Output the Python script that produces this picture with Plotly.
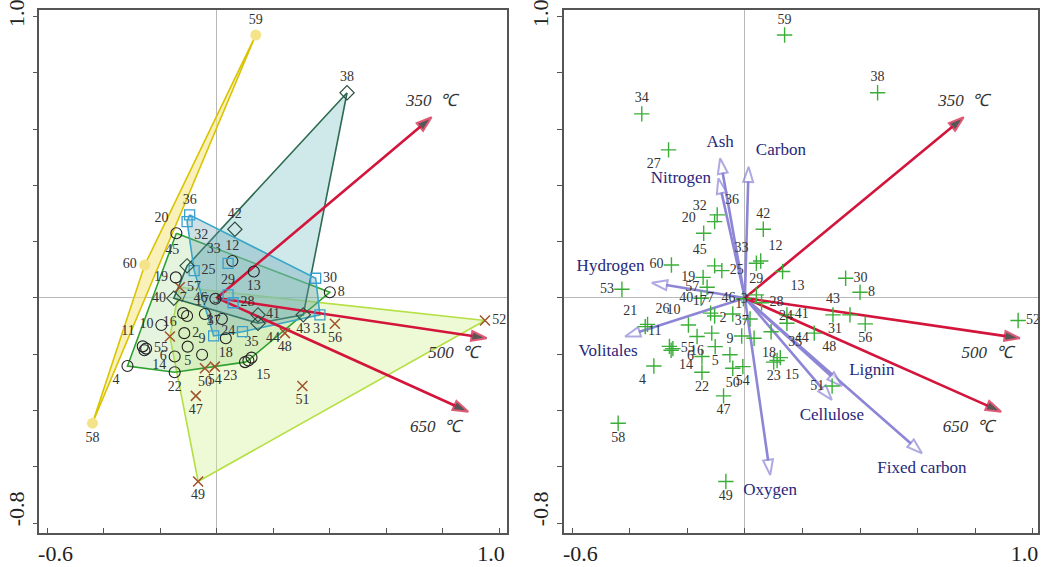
import plotly.graph_objects as go

# ---------------- data ----------------
sample_ids = [1, 2, 3, 4, 5, 6, 7, 8, 9, 10, 11, 12, 13, 14, 15, 16, 17, 18, 19, 20,
              21, 22, 23, 24, 25, 26, 27, 28, 29, 30, 31, 32, 33, 34, 35, 36, 37, 38,
              40, 41, 42, 43, 44, 45, 46, 47, 48, 49, 50, 51, 52, 53, 54, 55, 56, 57,
              58, 59, 60]
score_x = [0.018, -0.115, -0.042, -0.316, -0.103, -0.149, -0.119, 0.400, -0.052, -0.196,
           -0.262, 0.055, 0.131, -0.256, 0.112, -0.166, -0.105, 0.032, -0.145, -0.143,
           -0.346, -0.149, 0.100, 0.091, -0.080, -0.338, -0.265, 0.058, 0.040, 0.350,
           0.365, -0.105, 0.040, -0.358, 0.123, -0.096, -0.011, 0.461,
           -0.152, 0.146, 0.064, 0.306, 0.146, -0.105, -0.005, -0.074, 0.241, -0.066,
           -0.042, 0.303, 0.949, -0.427, -0.007, -0.250, 0.418, -0.131,
           -0.440, 0.138, -0.255]
score_y = [-0.075, -0.125, -0.057, -0.242, -0.173, -0.208, -0.054, 0.020, -0.202, -0.096,
           -0.172, 0.131, 0.094, -0.186, -0.222, -0.137, -0.064, -0.143, 0.073, 0.230,
           -0.102, -0.264, -0.228, -0.120, 0.097, -0.094, 0.526, -0.017, 0.011, 0.070,
           -0.060, 0.271, 0.123, 0.654, -0.212, 0.295, -0.135, 0.729,
           -0.001, -0.060, 0.244, -0.060, -0.090, 0.114, -0.003, -0.348, -0.125, -0.652,
           -0.250, -0.313, -0.080, 0.031, -0.244, -0.180, -0.092, 0.038,
           -0.445, 0.934, 0.117]

group_circle = [1, 2, 3, 4, 5, 6, 7, 8, 9, 10, 11, 12, 13, 14, 15, 17, 18, 19, 20, 22, 23, 35, 46, 55]
group_diamond = [38, 40, 41, 42, 43, 44, 45]
group_square = [24, 25, 28, 29, 30, 31, 32, 33, 36, 37]
group_cross = [16, 47, 48, 49, 50, 51, 52, 54, 56, 57]
group_yellow = [58, 59, 60]

hull_cross = [57, 52, 49, 16]
hull_circle = [20, 8, 35, 15, 23, 22, 4]
hull_diamond = [38, 43, 44, 40, 45]
hull_square = [36, 30, 31, 24, 37, 25, 32]
hull_yellow = [59, 60, 58]

env_names = ["350", "500", "650"]
env_x = [0.760, 0.955, 0.890]
env_y = [0.642, -0.143, -0.404]

var_names = ["Ash", "Carbon", "Nitrogen", "Hydrogen", "Volitales", "Oxygen",
             "Fixed carbon", "Cellulose", "Lignin"]
var_x = [-0.086, 0.013, -0.092, -0.323, -0.416, 0.088, 0.615, 0.302, 0.337]
var_y = [0.496, 0.466, 0.425, 0.054, -0.137, -0.629, -0.552, -0.362, -0.313]

tick_vals_x = [-0.6, -0.4, -0.2, 0.0, 0.2, 0.4, 0.6, 0.8, 1.0]
tick_vals_y = [-0.8, -0.6, -0.4, -0.2, 0.0, 0.2, 0.4, 0.6, 0.8, 1.0]

# ---------------- styling ----------------
pos_left = {1: 'middle left', 2: 'middle right', 3: 'top right', 4: 'bottom left', 5: 'bottom center',
            6: 'middle left', 7: 'top center', 8: 'middle right', 9: 'top center', 10: 'middle left',
            11: 'top left', 12: 'top center', 13: 'bottom center', 14: 'bottom right', 15: 'bottom right',
            16: 'top center', 17: 'top right', 18: 'bottom center', 19: 'middle left', 20: 'top left',
            21: 'top left', 22: 'bottom center', 23: 'bottom left', 24: 'middle left', 25: 'middle right',
            26: 'top right', 27: 'bottom left', 28: 'middle right', 29: 'top center', 30: 'middle right',
            31: 'bottom center', 32: 'bottom right', 33: 'top left', 34: 'top center', 35: 'top center',
            36: 'top center', 37: 'top center', 38: 'top center', 40: 'middle left', 41: 'middle right',
            42: 'top center', 43: 'bottom center', 44: 'bottom right', 45: 'top left', 46: 'middle left',
            47: 'bottom center', 48: 'bottom center', 49: 'bottom center', 50: 'bottom center',
            51: 'bottom center', 52: 'middle right', 53: 'middle left', 54: 'bottom center',
            55: 'middle right', 56: 'bottom center', 57: 'middle right', 58: 'bottom center',
            59: 'top center', 60: 'middle left'}
pos_right = dict(pos_left)
pos_right.update({36: 'top right', 32: 'top left', 13: 'bottom right', 57: 'middle left',
                  10: 'top left', 17: 'top left', 1: 'top left', 2: 'top right', 16: 'bottom center',
                  43: 'top center', 31: 'bottom left', 51: 'middle left', 48: 'bottom right',
                  24: 'top right', 35: 'top right', 23: 'bottom center', 18: 'bottom right',
                  12: 'top right'})

SERIF = "Liberation Serif"
RED = "#d3143b"
LAV = "#8d86d6"
NAVY = "#27277a"
LBL = "#333333"
NB = "\u00a0"

coord = {s: (x, y) for s, x, y in zip(sample_ids, score_x, score_y)}

fig = go.Figure()


def poly(ids, fillcolor, linecolor, width=1.6):
    xs = [coord[i][0] for i in ids] + [coord[ids[0]][0]]
    ys = [coord[i][1] for i in ids] + [coord[ids[0]][1]]
    fig.add_trace(go.Scatter(x=xs, y=ys, mode="lines", fill="toself", fillcolor=fillcolor,
                             line=dict(color=linecolor, width=width), hoverinfo="skip",
                             xaxis="x", yaxis="y"))


poly(hull_cross, "rgba(212,240,150,0.40)", "#b4e042")
poly(hull_circle, "rgba(160,215,140,0.28)", "#2fa12f")
poly(hull_diamond, "rgba(140,200,205,0.42)", "#2c6b50")
poly(hull_square, "rgba(100,160,175,0.32)", "#3aa6c8")
poly(hull_yellow, "rgba(246,228,130,0.55)", "#d8c400")


def arrows(tx, ty, xa, ya, color, head_fill, lw, size):
    for x1, y1 in zip(tx, ty):
        fig.add_trace(go.Scatter(x=[0, x1], y=[0, y1], mode="lines+markers",
                                 line=dict(color=color, width=lw),
                                 marker=dict(symbol="arrow", size=[0, size], angleref="previous",
                                             color=head_fill, line=dict(color=color, width=2)),
                                 hoverinfo="skip", xaxis=xa, yaxis=ya))


def arrow_labels(names, tx, ty, positions, xa, ya, color, fsize, italic):
    fig.add_trace(go.Scatter(x=tx, y=ty, mode="markers+text", text=names,
                             textposition=positions,
                             textfont=dict(family=SERIF, size=fsize, color=color,
                                           style="italic" if italic else "normal"),
                             marker=dict(size=10, opacity=0), hoverinfo="skip",
                             cliponaxis=False, xaxis=xa, yaxis=ya))


env_text = [n + "  ℃" for n in env_names]

# left panel arrows
arrows(env_x, env_y, "x", "y", RED, "#111111", 2.6, 16)


def group_markers(ids, symbol, color, size, lw, fill=None):
    fig.add_trace(go.Scatter(
        x=[coord[i][0] for i in ids], y=[coord[i][1] for i in ids],
        mode="markers+text", text=[str(i) for i in ids],
        textposition=[pos_left[i] for i in ids],
        textfont=dict(family=SERIF, size=14, color=LBL),
        marker=dict(symbol=symbol, size=size, color=fill if fill else color,
                    line=dict(color=color, width=lw)),
        cliponaxis=False, hoverinfo="skip", xaxis="x", yaxis="y"))


group_markers(group_cross, "x-thin-open", "#a0522d", 10, 1.5)
group_markers(group_circle, "circle-open", "#222222", 11, 1.1)
group_markers(group_square, "square-open", "#3aa0d0", 10, 1.3)
group_markers(group_diamond, "diamond-open", "#2b4d3b", 11, 1.1)
group_markers(group_yellow, "circle", "#f5e38a", 11, 0, fill="#f5e38a")

arrow_labels(env_text, env_x, env_y, ["top center", "bottom left", "bottom left"],
             "x", "y", LBL, 17, True)

# right panel
arrows(var_x, var_y, "x2", "y2", LAV, "white", 2.6, 16)
arrows(env_x, env_y, "x2", "y2", RED, "#111111", 2.6, 16)

fig.add_trace(go.Scatter(
    x=score_x, y=score_y, mode="markers+text", text=[str(i) for i in sample_ids],
    textposition=[pos_right[i] for i in sample_ids],
    textfont=dict(family=SERIF, size=14, color=LBL),
    marker=dict(symbol="cross-thin-open", size=11, color="#3aae38", line=dict(color="#3aae38", width=1.4)),
    cliponaxis=False, hoverinfo="skip", xaxis="x2", yaxis="y2"))

var_text = [n + (NB * 8 if n == "Volitales" else "") for n in var_names]
arrow_labels(var_text, var_x, var_y,
             ["top center", "top right", "middle left", "top left", "bottom center",
              "bottom center", "bottom center", "bottom center", "top right"],
             "x2", "y2", NAVY, 17, False)
arrow_labels(env_text, env_x, env_y, ["top center", "bottom left", "bottom left"],
             "x2", "y2", LBL, 17, True)

xt = [NB * 3 + "-0.6"] + [""] * 7 + ["1.0" + NB * 3]
yt = [NB * 4 + "-0.8"] + [""] * 8 + ["1.0"]

axis_x = dict(showline=True, linecolor="#555555", linewidth=1.5, mirror=True,
              ticks="inside", ticklen=5, tickcolor="#555555", tickwidth=1.2,
              tickvals=tick_vals_x, ticktext=xt, showgrid=False,
              zeroline=True, zerolinecolor="#b8b8b8", zerolinewidth=1,
              automargin=False, ticklabeloverflow="allow",
              tickfont=dict(family=SERIF, size=22, color="#222222"))
axis_y = dict(showline=True, linecolor="#555555", linewidth=1.5, mirror=True,
              ticks="outside", ticklen=5, tickcolor="#555555", tickwidth=1.2,
              tickvals=tick_vals_y, ticktext=yt, tickangle=-90, showgrid=False,
              zeroline=True, zerolinecolor="#b8b8b8", zerolinewidth=1,
              automargin=False, ticklabeloverflow="allow",
              tickfont=dict(family=SERIF, size=22, color="#222222"),
              range=[-0.835, 1.023], domain=[0.06, 0.9824])

fig.update_layout(
    width=1043, height=567, autosize=False,
    margin=dict(l=0, r=0, t=0, b=0, autoexpand=False),
    paper_bgcolor="white", plot_bgcolor="white",
    showlegend=False,
    xaxis=dict(axis_x, domain=[0.0377, 0.4858], range=[-0.628, 1.026]),
    yaxis=dict(axis_y, anchor="x"),
    xaxis2=dict(axis_x, domain=[0.5405, 0.9952], range=[-0.629, 1.018], anchor="y2"),
    yaxis2=dict(axis_y, anchor="x2"),
)

fig.write_html("out.html", config={"displayModeBar": False},
               post_script="document.body.style.margin='0';document.body.style.overflow='hidden';")
